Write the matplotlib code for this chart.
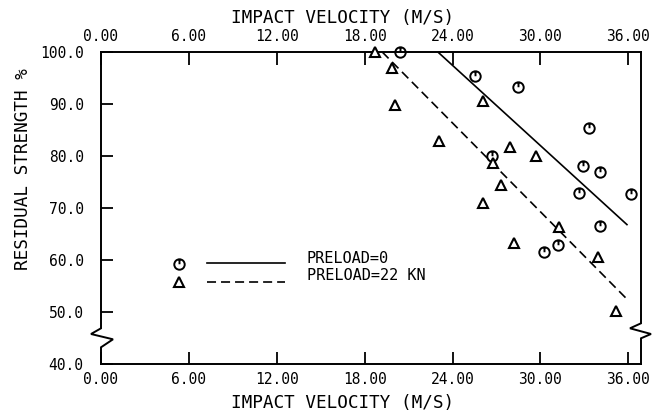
import numpy as np
import matplotlib
matplotlib.use("Agg")
import matplotlib.pyplot as plt
from matplotlib.path import Path

plt.rcParams['lines.scale_dashes'] = False
FONT = 'DejaVu Sans Mono'

# ---- data ----
v_preload0 = [20.4, 25.5, 28.5, 33.3, 32.9, 34.1, 32.65, 36.2, 26.7, 34.1, 30.25, 31.2]
s_preload0 = [100.0, 95.4, 93.3, 85.4, 78.1, 77.0, 72.8, 72.7, 80.0, 66.5, 61.5, 62.8]

v_preload22 = [18.7, 19.9, 20.1, 26.05, 23.1, 27.9, 29.7, 26.75, 27.3, 26.05, 31.3, 28.2, 33.9, 35.15]
s_preload22 = [100.0, 96.9, 89.8, 90.6, 82.9, 81.8, 80.0, 78.7, 74.4, 71.0, 66.3, 63.3, 60.6, 50.2]

# fitted lines (end points)
fit0_v = [23.0, 35.95]
fit0_s = [100.0, 66.7]
fit22_v = [19.2, 35.9]
fit22_s = [100.0, 52.5]

x_ticks = [0, 6, 12, 18, 24, 30, 36]
x_ticklabels = ['0.00', '6.00', '12.00', '18.00', '24.00', '30.00', '36.00']
y_ticks = [40, 50, 60, 70, 80, 90, 100]
y_ticklabels = ['40.0', '50.0', '60.0', '70.0', '80.0', '90.0', '100.0']

legend_labels = ['PRELOAD=0', 'PRELOAD=22 KN']

# ---- figure ----
W, H = 653, 413
fig = plt.figure(figsize=(W / 100, H / 100), dpi=100)
L, R, T, B = 101, 641, 52, 364
ax = fig.add_axes([L / W, 1 - B / H, (R - L) / W, (B - T) / H])
XMAX = (R - L) / ((628.3 - 101) / 36.0)
ax.set_xlim(0, XMAX)
ax.set_ylim(40, 100)

# circle-with-tick marker
circ = Path.unit_circle()
stroke = Path([(0, 1), (0, 0.05)], [Path.MOVETO, Path.LINETO])
clock = Path.make_compound_path(circ, stroke)

lw = 1.2
ax.plot(fit0_v, fit0_s, color='black', lw=lw, solid_capstyle='butt')
ax.plot(fit22_v, fit22_s, color='black', lw=lw, dashes=(6.5, 3.6))

ax.plot(v_preload0, s_preload0, ls='none', marker=clock, ms=7.5, mfc='none',
        mec='black', mew=1.4, clip_on=False, zorder=4)
ax.plot(v_preload22, s_preload22, ls='none', marker='^', ms=7.8, mfc='white',
        mec='black', mew=1.5, clip_on=False, zorder=4)

# legend (manual, like the plotter layout)
ax.plot([5.32], [59.2], ls='none', marker=clock, ms=7.5, mfc='none', mec='black', mew=1.4)
ax.plot([5.32], [55.7], ls='none', marker='^', ms=7.8, mfc='white', mec='black', mew=1.5)
ax.plot([7.22, 12.56], [59.5, 59.5], color='black', lw=lw)
ax.plot([7.22, 12.56], [55.8, 55.8], color='black', lw=lw, dashes=(6.5, 3.6))
ax.text(14.04, 60.3, legend_labels[0], fontsize=11, family=FONT, va='center', ha='left')
ax.text(14.04, 57.0, legend_labels[1], fontsize=11, family=FONT, va='center', ha='left')

# spines: top/bottom normal, left/right with zigzag breaks
for s in ['left', 'right']:
    ax.spines[s].set_visible(False)
for s in ['top', 'bottom']:
    ax.spines[s].set_linewidth(1.4)

pxu_x = (628.3 - 101) / 36.0
pxu_y = (B - T) / 60.0
def dx(p):
    return p / pxu_x
def yv(py):
    return 100 - (py - T) / pxu_y

left_x = [0, 0, dx(-10), dx(12), 0, 0]
left_y = [100, yv(328.3), yv(334), yv(339.3), yv(347.3), 40]
ax.plot(left_x, left_y, color='black', lw=1.4, clip_on=False, solid_joinstyle='miter')
right_x = [XMAX, XMAX, XMAX + dx(-11), XMAX + dx(10), XMAX, XMAX]
right_y = [100, yv(323.3), yv(328.3), yv(334), yv(338.3), 40]
ax.plot(right_x, right_y, color='black', lw=1.4, clip_on=False, solid_joinstyle='miter')

# ticks
ax.set_xticks(x_ticks)
ax.set_xticklabels(x_ticklabels)
ax.set_yticks(y_ticks)
ax.set_yticklabels(y_ticklabels)
ax.tick_params(axis='x', which='both', direction='in', top=True, bottom=True,
               labeltop=True, labelbottom=True, length=9, width=1.3, labelsize=10.5,
               pad=6)
ax.tick_params(axis='y', direction='in', left=True, right=False, length=8.5,
               width=1.3, labelsize=10.5, pad=12.5)
for lab in ax.get_xticklabels() + ax.get_yticklabels():
    lab.set_family(FONT)
for t in ax.xaxis.get_major_ticks():
    t.label2.set_family(FONT)

# axis titles
fig.text(343 / W, 1 - 23 / H, 'IMPACT VELOCITY (M/S)', fontsize=12.7, family=FONT,
         ha='center', va='baseline')
fig.text(343 / W, 1 - 408 / H, 'IMPACT VELOCITY (M/S)', fontsize=12.7, family=FONT,
         ha='center', va='baseline')
fig.text(23.5 / W, 1 - 169.5 / H, 'RESIDUAL STRENGTH %', fontsize=12.7, family=FONT,
         ha='center', va='center', rotation=90)

fig.savefig('out.png', dpi=100)
